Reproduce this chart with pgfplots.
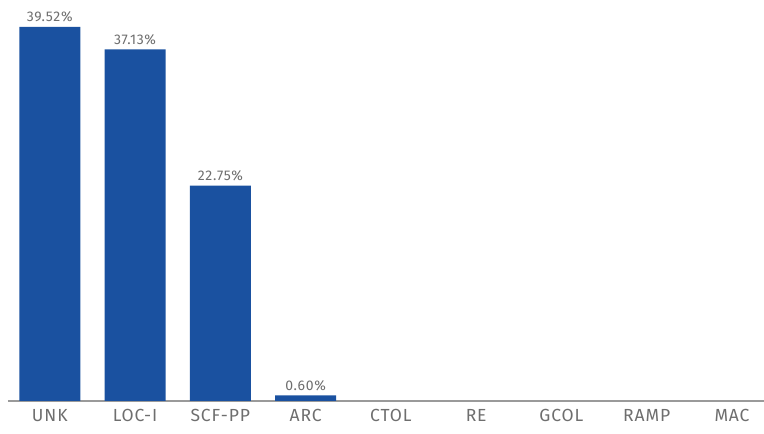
\documentclass[border=0pt]{standalone}
\usepackage{fontspec}
\setmainfont{Fira Sans}[LetterSpace=5]
\usepackage{pgfplots}
\pgfplotsset{compat=1.18}
\definecolor{barblue}{HTML}{1A51A0}
\definecolor{labelgray}{HTML}{6E6E6E}
\definecolor{linegray}{HTML}{9A9A9A}

\begin{document}
\begin{tikzpicture}
\begin{axis}[
    scale only axis,
    width=756pt, height=401pt,
    xmin=-0.49, xmax=8.375,
    ymin=0, ymax=42.35,
    axis x line=bottom,
    axis y line=none,
    axis line style={linegray, line width=1.2pt, -},
    xtick={0,...,8},
    xticklabels={UNK,LOC-I,SCF-PP,ARC,CTOL,RE,GCOL,RAMP,MAC},
    major tick length=0pt,
    xticklabel style={font=\fontsize{17.5}{17.5}\selectfont, text=labelgray, yshift=-5pt},
    ybar, bar width=61pt,
    /pgf/number format/assume math mode=true,
    nodes near coords={\pgfmathprintnumber[fixed,fixed zerofill,precision=2,assume math mode=true]{\pgfplotspointmeta}\%},
    nodes near coords style={font=\fontsize{14}{14}\selectfont, text=labelgray, yshift=1pt},
    clip=false,
]
\addplot[draw=none, fill=barblue] coordinates {
    (0,39.52)
    (1,37.13)
    (2,22.75)
    (3,0.60)
};
\end{axis}
\pgfresetboundingbox
\path (current axis.south west) ++(-8pt,-33pt) rectangle (current axis.north east);
\end{tikzpicture}
\end{document}
